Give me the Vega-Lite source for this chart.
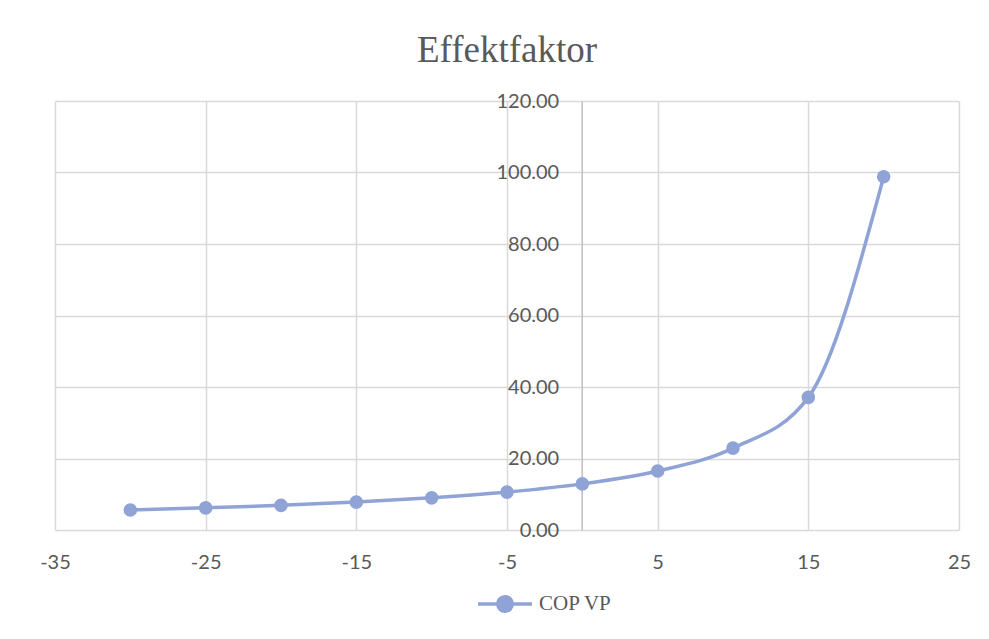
{
  "$schema": "https://vega.github.io/schema/vega-lite/v6.json",
  "width": 904,
  "height": 429,
  "autosize": "none",
  "padding": {"left": 55, "top": 101, "right": 30, "bottom": 109},
  "background": "white",
  "title": {
    "text": "Effektfaktor",
    "font": "Liberation Serif",
    "fontSize": 37,
    "fontWeight": "normal",
    "color": "#595959",
    "anchor": "middle",
    "offset": 21
  },
  "config": {
    "view": {"stroke": null},
    "axis": {
      "labelFont": "Lato",
      "labelFontSize": 20,
      "labelColor": "#595959",
      "gridColor": "#D9D9D9",
      "gridWidth": 1.5,
      "domainColor": "#BFBFBF",
      "domainWidth": 1.5,
      "ticks": false,
      "tickSize": 0,
      "title": null
    }
  },
  "data": {
    "values": [
      {"t": -30, "cop": 5.6, "series": "COP VP"},
      {"t": -25, "cop": 6.2, "series": "COP VP"},
      {"t": -20, "cop": 6.9, "series": "COP VP"},
      {"t": -15, "cop": 7.8, "series": "COP VP"},
      {"t": -10, "cop": 9.0, "series": "COP VP"},
      {"t": -5, "cop": 10.6, "series": "COP VP"},
      {"t": 0, "cop": 12.9, "series": "COP VP"},
      {"t": 5, "cop": 16.5, "series": "COP VP"},
      {"t": 10, "cop": 22.9, "series": "COP VP"},
      {"t": 15, "cop": 37.1, "series": "COP VP"},
      {"t": 20, "cop": 98.8, "series": "COP VP"}
    ]
  },
  "mark": {
    "type": "line",
    "interpolate": "monotone",
    "strokeWidth": 3.5,
    "point": {"filled": true, "size": 185, "opacity": 1}
  },
  "encoding": {
    "x": {
      "field": "t",
      "type": "quantitative",
      "scale": {"domain": [-35, 25], "nice": false, "zero": false},
      "axis": {
        "values": [-35, -25, -15, -5, 5, 15, 25],
        "labelExpr": "toString(datum.value)",
        "labelFlush": false,
        "labelOverlap": false,
        "labelPadding": 22,
        "domain": false
      }
    },
    "y": {
      "field": "cop",
      "type": "quantitative",
      "scale": {"domain": [0, 120], "nice": false},
      "axis": {
        "values": [0, 20, 40, 60, 80, 100, 120],
        "format": ".2f",
        "labelPadding": 23,
        "offset": -526.7
      }
    },
    "color": {
      "field": "series",
      "type": "nominal",
      "scale": {"range": ["#8FA3D6"]},
      "legend": {
        "orient": "none",
        "legendX": 421,
        "legendY": 474,
        "title": null,
        "labelFont": "Liberation Serif",
        "labelFontSize": 21,
        "labelColor": "#595959",
        "labelOffset": 5,
        "symbolType": "M-1,0L1,0M-0.27,0A0.27,0.27 0 1 0 0.27,0A0.27,0.27 0 1 0 -0.27,0",
        "symbolSize": 2916,
        "symbolStrokeWidth": 3.5,
        "symbolFillColor": "#8FA3D6",
        "symbolStrokeColor": "#8FA3D6"
      }
    }
  }
}
